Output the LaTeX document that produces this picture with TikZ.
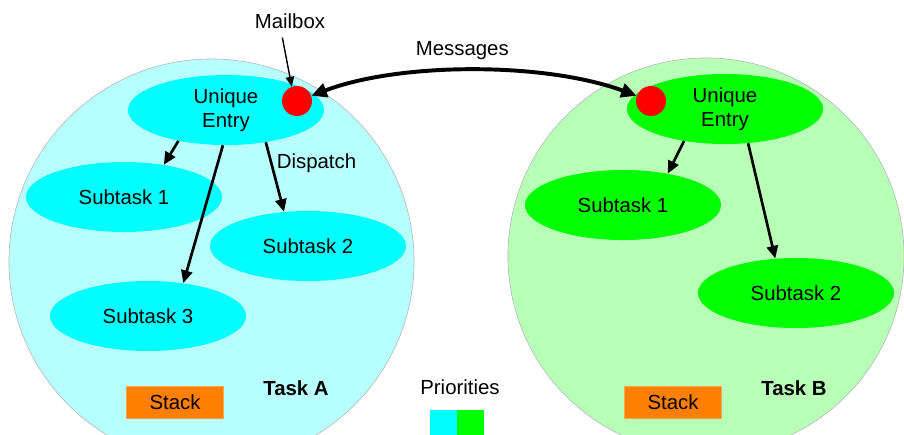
\documentclass[tikz,border=0pt]{standalone}
\usepackage{fontspec}
\setmainfont{Liberation Sans}
\usetikzlibrary{shapes.geometric, arrows.meta}
\definecolor{taskCyan}{HTML}{00FFFF}
\definecolor{taskCyanSoft}{HTML}{B8FFFF}
\definecolor{taskGreen}{HTML}{00FF00}
\definecolor{taskGreenSoft}{HTML}{B8FFB8}
\definecolor{mailRed}{HTML}{FF0000}
\definecolor{stackOrange}{HTML}{FF8000}

\begin{document}
\begin{tikzpicture}[x=0.025cm, y=-0.025cm,
    font=\fontsize{14.5}{18.5}\selectfont,
    taskCircle/.style={circle, draw=gray!60, line width=0.4pt, inner sep=0pt},
    subtask/.style={ellipse, minimum width=4.9cm, minimum height=1.75cm, inner sep=0pt, align=center},
    mailDot/.style={circle, fill=mailRed, minimum size=0.75cm, inner sep=0pt},
    stackBox/.style={rectangle, fill=stackOrange, draw=stackOrange!70, minimum width=2.425cm, minimum height=0.8cm, inner sep=0pt},
    taskLabel/.style={font=\fontsize{14.5}{18}\selectfont\bfseries},
    swatch/.style={rectangle, minimum width=0.675cm, minimum height=0.625cm, inner sep=0pt},
    dispatchArrow/.style={-{Triangle[length=9pt, width=8pt]}, line width=1.9pt},
    msgArrow/.style={{Triangle[length=11pt, width=10pt]}-{Triangle[length=11pt, width=10pt]}, line width=2.8pt},
]
\useasboundingbox (0,0) rectangle (904,435);
\clip (0,0) rectangle (904,435);
\node[taskCircle, fill=taskCyanSoft, minimum size=10.125cm] (taskA) at (211.5,261.5) {};
\node[taskCircle, fill=taskGreenSoft, minimum size=9.9cm] (taskB) at (706,256) {};

\node[subtask, fill=taskCyan] (entryA) at (226,110) {\raisebox{-4pt}{\shortstack{Unique\\[1pt]Entry}}};
\node[subtask, fill=taskCyan] (sub1A) at (124,197) {Subtask 1};
\node[subtask, fill=taskCyan] (sub2A) at (308,246) {Subtask 2};
\node[subtask, fill=taskCyan] (sub3A) at (148,316) {Subtask 3};
\node[mailDot] (dotA) at (297,101) {};
\node[stackBox] (stackA) at (175,402) {Stack};
\node[taskLabel] (labelA) at (296,388) {Task A};

\node[subtask, fill=taskGreen] (entryB) at (725,109) {\raisebox{-4pt}{\shortstack{Unique\\[1pt]Entry}}};
\node[subtask, fill=taskGreen] (sub1B) at (623,205) {Subtask 1};
\node[subtask, fill=taskGreen] (sub2B) at (796,293) {Subtask 2};
\node[mailDot] (dotB) at (651,101) {};
\node[stackBox] (stackB) at (673,402) {Stack};
\node[taskLabel] (labelB) at (794,388) {Task B};

\node (mailbox) at (290,21) {Mailbox};
\node (prio) at (460,387) {Priorities};
\node[swatch, fill=taskCyan] (prioA) at (443.5,422.5) {};
\node[swatch, fill=taskGreen] (prioB) at (470.5,422.5) {};

\draw[-{Triangle[length=7pt, width=6pt]}, line width=1pt, shorten <=3pt] ([xshift=-6pt]mailbox.south) -- (dotA.110);
\draw[msgArrow] (dotA.20) .. controls (400,62) and (545,62) .. node[above, pos=0.47, inner sep=6pt] (msgLabel) {Messages} (dotB.160);

\draw[dispatchArrow] (entryA.213) -- (sub1A.39);
\draw[dispatchArrow] (entryA.265) -- (sub3A.43);
\draw[dispatchArrow] (entryA.321) -- node[right, pos=0.3, inner sep=3pt] (dispatch) {Dispatch} (sub2A.125);
\draw[dispatchArrow] (entryB.218) -- (sub1B.35);
\draw[dispatchArrow] (entryB.304) -- (sub2B.121);
\end{tikzpicture}
\end{document}
